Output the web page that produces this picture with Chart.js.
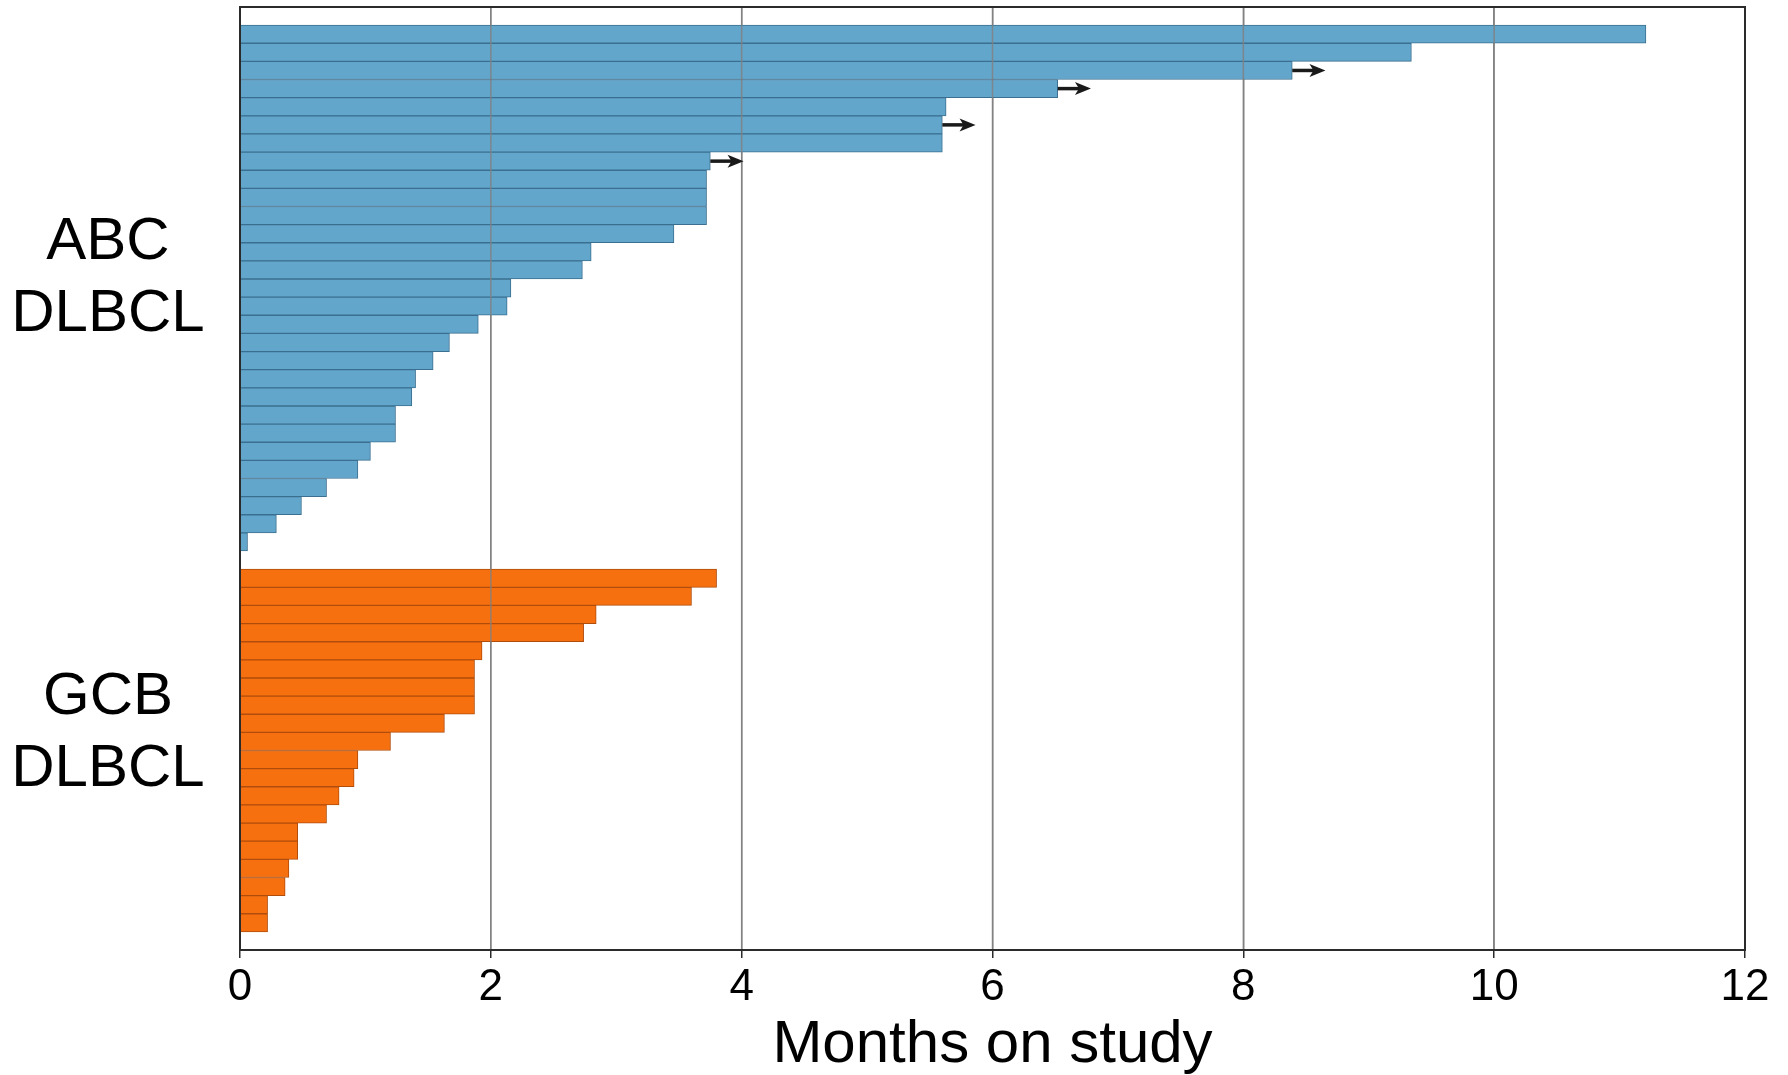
<!DOCTYPE html>
<html>
<head>
<meta charset="utf-8">
<script src="https://cdn.jsdelivr.net/npm/chart.js@4/dist/chart.umd.min.js"></script>
<style>
  html, body { margin: 0; padding: 0; background: #fff; }
  #wrap { width: 1788px; height: 1075px; position: relative; }
</style>
</head>
<body>
<div id="wrap"><canvas id="c"></canvas></div>
<script>
// ---- data ----
const abcMonths = [11.21, 9.34, 8.39, 6.52, 5.63, 5.60, 5.60, 3.75, 3.72, 3.72,
                   3.72, 3.46, 2.80, 2.73, 2.16, 2.13, 1.90, 1.67, 1.54, 1.40,
                   1.37, 1.24, 1.24, 1.04, 0.94, 0.69, 0.49, 0.29, 0.06];
const abcOngoing = [0, 0, 1, 1, 0, 1, 0, 1, 0, 0,
                    0, 0, 0, 0, 0, 0, 0, 0, 0, 0,
                    0, 0, 0, 0, 0, 0, 0, 0, 0];
const gcbMonths = [3.80, 3.60, 2.84, 2.74, 1.93, 1.87, 1.87, 1.87, 1.63, 1.20,
                   0.94, 0.91, 0.79, 0.69, 0.46, 0.46, 0.39, 0.36, 0.22, 0.22];
const gcbOngoing = new Array(20).fill(0);
const groupNames = [["ABC", "DLBCL"], ["GCB", "DLBCL"]];
const xTickValues = [0, 2, 4, 6, 8, 10, 12];
const xTitle = "Months on study";

// ---- build row layout: blank, ABC rows, blank, GCB rows, blank ----
const rowLabels = [];
const abcData = [];
const gcbData = [];
rowLabels.push(""); abcData.push(null); gcbData.push(null);
abcMonths.forEach((v, i) => { rowLabels.push("ABC " + (i + 1)); abcData.push(v); gcbData.push(null); });
rowLabels.push(""); abcData.push(null); gcbData.push(null);
gcbMonths.forEach((v, i) => { rowLabels.push("GCB " + (i + 1)); abcData.push(null); gcbData.push(v); });
rowLabels.push(""); abcData.push(null); gcbData.push(null);

const abcStart = 1, gcbStart = abcMonths.length + 2;
const arrowMonths = 0.265;
const FONT = '"Liberation Sans", Arial, Helvetica, sans-serif';

const decorPlugin = {
  id: 'decor',
  afterDatasetsDraw(chart) {
    const ctx = chart.ctx, xs = chart.scales.x, ys = chart.scales.y, a = chart.chartArea;
    ctx.save();
    // vertical grid lines drawn over the bars
    ctx.strokeStyle = 'rgba(128,128,128,0.85)'; ctx.lineWidth = 1.5;
    xTickValues.forEach(v => {
      const x = xs.getPixelForValue(v);
      ctx.beginPath(); ctx.moveTo(x, a.top); ctx.lineTo(x, a.bottom); ctx.stroke();
    });
    // censoring arrows
    const drawArrows = (vals, flags, start) => {
      vals.forEach((v, i) => {
        if (!flags[i]) return;
        const x0 = xs.getPixelForValue(v), x1 = xs.getPixelForValue(v + arrowMonths);
        const y = ys.getPixelForValue(start + i);
        ctx.strokeStyle = '#1a1a1a'; ctx.fillStyle = '#1a1a1a'; ctx.lineWidth = 3.5;
        ctx.beginPath(); ctx.moveTo(x0, y); ctx.lineTo(x1 - 10, y); ctx.stroke();
        ctx.beginPath(); ctx.moveTo(x1, y); ctx.lineTo(x1 - 16, y - 6.5); ctx.lineTo(x1 - 12, y); ctx.lineTo(x1 - 16, y + 6.5); ctx.closePath(); ctx.fill();
      });
    };
    drawArrows(abcMonths, abcOngoing, abcStart);
    drawArrows(gcbMonths, gcbOngoing, gcbStart);
    ctx.restore();
  },
  afterDraw(chart) {
    const ctx = chart.ctx, ys = chart.scales.y, a = chart.chartArea;
    ctx.save();
    // frame
    ctx.strokeStyle = '#2b2b2b'; ctx.lineWidth = 2;
    ctx.strokeRect(a.left, a.top, a.right - a.left, a.bottom - a.top);
    // group labels
    ctx.fillStyle = '#000'; ctx.font = '60px ' + FONT; ctx.textAlign = 'center'; ctx.textBaseline = 'alphabetic';
    const groups = [[abcStart, abcMonths.length, -29], [gcbStart, gcbMonths.length, -37]];
    groups.forEach((g, k) => {
      const yc = (ys.getPixelForValue(g[0]) + ys.getPixelForValue(g[0] + g[1] - 1)) / 2 + g[2];
      const cx = a.left / 2 - 12;
      ctx.fillText(groupNames[k][0], cx, yc);
      ctx.fillText(groupNames[k][1], cx, yc + 72);
    });
    ctx.restore();
  }
};

new Chart(document.getElementById('c'), {
  type: 'bar',
  data: {
    labels: rowLabels,
    datasets: [
      { label: 'ABC DLBCL', data: abcData, backgroundColor: '#63A6CC', borderColor: '#3B6F8F',
        borderWidth: 1, grouped: false, barPercentage: 1, categoryPercentage: 1 },
      { label: 'GCB DLBCL', data: gcbData, backgroundColor: '#F7700F', borderColor: '#B04C0C',
        borderWidth: 1, grouped: false, barPercentage: 1, categoryPercentage: 1 }
    ]
  },
  options: {
    indexAxis: 'y',
    responsive: true,
    maintainAspectRatio: false,
    animation: false,
    layout: { padding: { top: 7, right: 43, left: 0, bottom: 0 } },
    plugins: { legend: { display: false }, tooltip: { enabled: false } },
    scales: {
      x: {
        type: 'linear', min: 0, max: 12,
        afterBuildTicks: (s) => { s.ticks = xTickValues.map(v => ({ value: v })); },
        afterFit: (s) => { s.height = 125; },
        grid: { color: '#8a8a8a', lineWidth: 1.5, tickLength: 8, tickColor: '#2b2b2b', tickWidth: 1.5 },
        border: { display: false },
        ticks: { color: '#000', font: { family: FONT, size: 44 }, padding: 3, maxRotation: 0 },
        title: { display: true, text: xTitle, color: '#000', font: { family: FONT, size: 60, lineHeight: 1 }, padding: { top: 0, bottom: 0 } }
      },
      y: {
        type: 'category',
        afterFit: (s) => { s.width = 240; },
        grid: { display: false },
        border: { display: false },
        ticks: { display: false }
      }
    }
  },
  plugins: [decorPlugin]
});
</script>
</body>
</html>
